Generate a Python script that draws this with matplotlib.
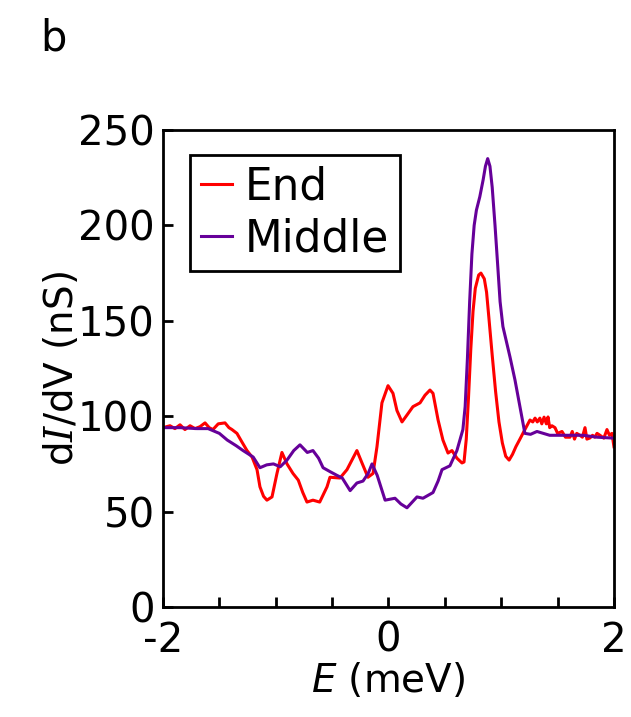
import numpy as np
import matplotlib
matplotlib.use('Agg')
import matplotlib.pyplot as plt

plt.rcParams['font.family'] = ['DejaVu Sans']
plt.rcParams['axes.unicode_minus'] = False
plt.rcParams['mathtext.fontset'] = 'custom'
plt.rcParams['mathtext.it'] = 'DejaVu Serif:italic'
plt.rcParams['mathtext.sf'] = 'DejaVu Sans:italic'
plt.rcParams['mathtext.rm'] = 'DejaVu Sans'

# "End" spectrum (red)
E_end = [-2.0, -1.938, -1.894, -1.849, -1.805, -1.76, -1.716, -1.672, -1.627, -1.59,
         -1.557, -1.51, -1.45, -1.415, -1.388, -1.344, -1.30, -1.255, -1.21, -1.166,
         -1.14, -1.108, -1.078, -1.033, -0.989, -0.945, -0.90, -0.847, -0.80, -0.76,
         -0.723, -0.67, -0.61, -0.545, -0.519, -0.43, -0.368, -0.28, -0.235, -0.182,
         -0.137, -0.102, -0.058, -0.004, 0.04, 0.075, 0.12, 0.164, 0.217, 0.28,
         0.324, 0.368, 0.395, 0.44, 0.483, 0.528, 0.563, 0.607, 0.652, 0.67,
         0.69, 0.71, 0.73, 0.75, 0.77, 0.80, 0.82, 0.85, 0.87, 0.89,
         0.92, 0.95, 0.98, 1.01, 1.04, 1.07, 1.1, 1.13, 1.166, 1.21,
         1.255, 1.28, 1.30, 1.32, 1.343, 1.36, 1.38, 1.40, 1.415, 1.43,
         1.45, 1.477, 1.50, 1.539, 1.57, 1.61, 1.63, 1.65, 1.67, 1.698,
         1.72, 1.743, 1.76, 1.787, 1.81, 1.83, 1.85, 1.876, 1.91, 1.938,
         1.96, 1.982, 2.0]
G_end = [94, 95, 93.5, 95.5, 93, 95, 93.5, 94.5, 96.5, 94,
         93, 96, 96.5, 94, 93, 91, 86.5, 82, 78.6, 72,
         63, 58, 56, 57.7, 70, 81, 75, 70, 66.5, 60,
         55, 56, 55, 63, 68, 67.6, 72, 82, 75.5, 68,
         70, 84, 107, 116, 112, 103, 97, 100.6, 105, 107,
         111, 113.7, 112, 98, 87.5, 80.7, 82, 78, 75.5, 76,
         88, 110, 135, 155, 167, 174, 175, 172, 165, 152,
         132, 113, 97, 86, 79, 77, 80, 84, 88, 93,
         98, 97, 99, 97, 99, 96, 99.5, 96, 99.6, 94,
         95, 94, 91, 92, 89, 89, 92, 88, 91, 90,
         89, 94, 88, 88.6, 90, 89, 91, 90, 88.5, 93,
         90, 91, 84]

# "Middle" spectrum (purple)
E_mid = [-2.0, -1.85, -1.7, -1.6, -1.5, -1.43, -1.35, -1.29, -1.2, -1.14,
         -1.08, -1.02, -0.96, -0.9, -0.84, -0.785, -0.72, -0.67, -0.62, -0.58,
         -0.52, -0.457, -0.41, -0.34, -0.28, -0.226, -0.18, -0.146, -0.10, -0.03,
         0.058, 0.11, 0.164, 0.253, 0.306, 0.395, 0.44, 0.475, 0.545, 0.607,
         0.66, 0.68, 0.70, 0.72, 0.74, 0.76, 0.78, 0.81, 0.84, 0.86,
         0.88, 0.90, 0.92, 0.945, 0.97, 0.99, 1.015, 1.078, 1.122, 1.166,
         1.21, 1.26, 1.317, 1.43, 1.58, 1.725, 1.85, 2.0]
G_mid = [94, 94, 93.5, 93.5, 91, 87.5, 84.5, 82, 78.6, 73,
         74.5, 75, 73.5, 77, 82, 85, 81, 82, 78, 73,
         71, 69, 67.6, 61, 65, 66, 70, 75, 69, 56,
         57, 54, 52, 57.7, 57, 60, 66, 72, 74, 82,
         93, 105, 130, 160, 185, 200, 208, 215, 224, 231,
         235, 231, 220, 200, 178, 160, 147, 131, 119, 105,
         91, 90.5, 92, 90, 90, 90, 89, 88.5]

xticks = [-2, -1.5, -1, -0.5, 0, 0.5, 1, 1.5, 2]
xticklabels = ['-2', '', '', '', '0', '', '', '', '2']
yticks = [0, 50, 100, 150, 200, 250]

fig = plt.figure(figsize=(6.31, 7.17), dpi=100)
ax = fig.add_axes([0.2583, 0.1534, 0.7147, 0.6653])

ax.plot(E_end, G_end, color='#ff0000', lw=2.2, label='End')
ax.plot(E_mid, G_mid, color='#660099', lw=2.2, label='Middle')

ax.set_xlim(-2, 2)
ax.set_ylim(0, 250)
ax.set_xticks(xticks)
ax.set_xticklabels(xticklabels)
ax.set_yticks(yticks)
ax.tick_params(direction='in', length=7, width=2, labelsize=29,
               top=False, right=False)
ax.tick_params(axis='x', pad=10)
ax.tick_params(axis='y', pad=6)
for s in ax.spines.values():
    s.set_linewidth(2)

ax.set_xlabel(r'$\mathsf{E}$ (meV)', fontsize=28, labelpad=0)
ax.set_ylabel(r'd$I$/dV (nS)', fontsize=28, labelpad=-2)

leg = ax.legend(loc='upper left', bbox_to_anchor=(0.06, 0.948), borderaxespad=0,
                fontsize=31.5, handlelength=0.7, handletextpad=0.3,
                labelspacing=0.2, borderpad=0.25, fancybox=False, framealpha=1)
leg.get_frame().set_edgecolor('black')
leg.get_frame().set_linewidth(2)

fig.text(0.063, 0.93, 'b', fontsize=30, va='baseline')

fig.savefig('out.png', dpi=100)
